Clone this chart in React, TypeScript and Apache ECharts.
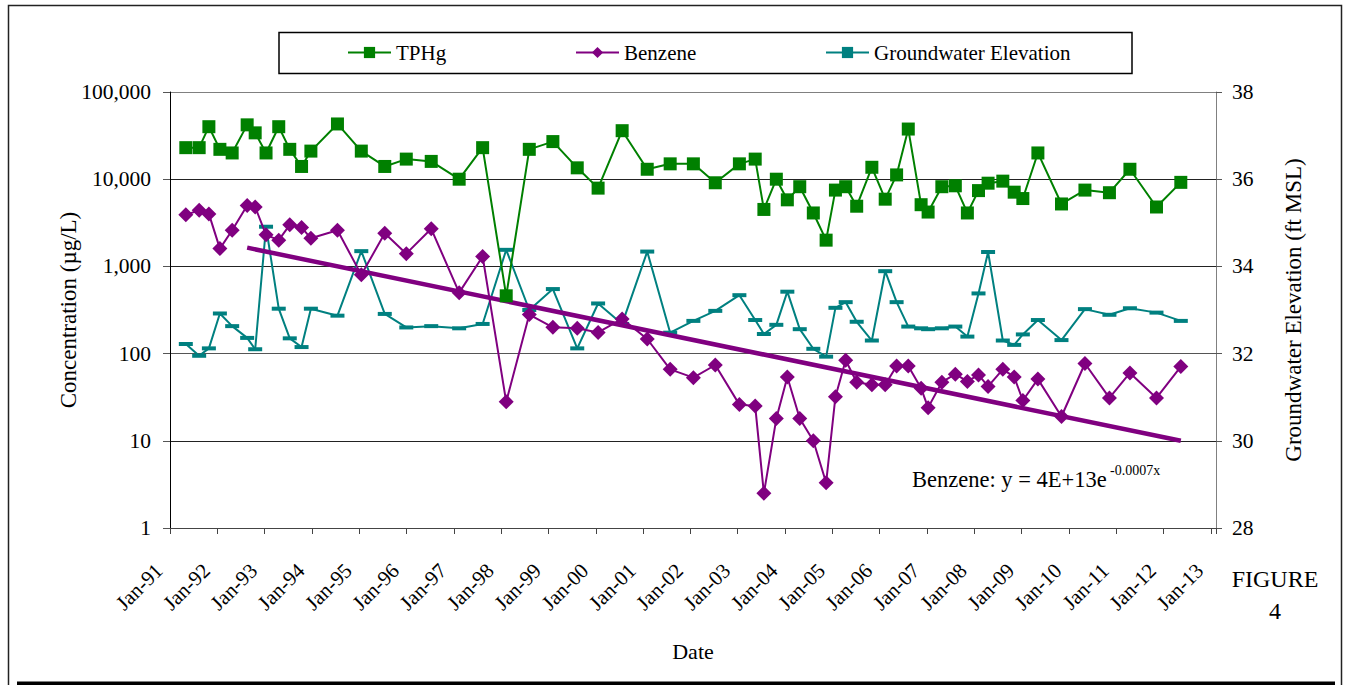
import { useEffect, useRef } from 'react';
import * as echarts from 'echarts';

// Monitoring-well sampling dates
const SAMPLE_DATES = [
  '1991-05-03', '1991-08-14', '1991-10-28', '1992-01-21', '1992-04-25', '1992-08-19', '1992-10-20', '1993-01-12',
  '1993-04-20', '1993-07-14', '1993-10-13', '1993-12-24', '1994-07-17', '1995-01-17', '1995-07-17', '1995-12-30',
  '1996-07-10', '1997-02-11', '1997-08-11', '1998-02-09', '1998-08-06', '1999-02-04', '1999-08-11', '2000-01-19',
  '2000-07-23', '2001-02-02', '2001-07-29', '2002-01-24', '2002-07-12', '2003-01-14', '2003-05-16', '2003-07-22',
  '2003-10-26', '2004-01-19', '2004-04-24', '2004-08-07', '2004-11-14', '2005-01-25', '2005-04-14', '2005-07-08',
  '2005-11-02', '2006-02-13', '2006-05-12', '2006-08-10', '2006-11-17', '2007-01-10', '2007-04-26', '2007-08-08',
  '2007-11-09', '2008-02-03', '2008-04-17', '2008-08-09', '2008-11-05', '2009-01-11', '2009-05-07', '2009-11-05',
  '2010-05-05', '2010-11-10', '2011-04-17', '2011-11-08', '2012-05-14',
];

// TPHg concentration (µg/L)
const TPHG = [
  23000, 23000, 40000, 22000, 20000, 42000, 34000, 20000, 40000, 22000,
  14000, 21000, 43000, 21000, 14000, 17000, 16000, 10000, 23000, 460,
  22000, 27000, 13500, 7900, 36000, 13000, 15000, 15000, 9100, 15000,
  17000, 4500, 10000, 5800, 8200, 4100, 2000, 7500, 8200, 4900,
  13700, 5900, 11200, 37600, 5100, 4200, 8200, 8400, 4100, 7400,
  9000, 9500, 7100, 6000, 20000, 5200, 7500, 7000, 13000, 4800,
  9200,
];

// Benzene concentration (µg/L)
const BENZENE = [
  3900, 4400, 4000, 1600, 2600, 5000, 4800, 2300, 2000, 3000,
  2800, 2100, 2600, 800, 2400, 1400, 2700, 500, 1300, 28,
  280, 200, 195, 175, 250, 147, 66, 53, 74, 26,
  25, 2.5, 18, 54, 18, 10, 3.3, 32, 84, 47,
  44, 44, 72, 72, 40, 24, 47, 58, 48, 57,
  42, 66, 54, 29, 51, 19, 77, 31, 60, 31,
  71,
];

// Groundwater elevation (ft MSL)
const GW_ELEV = [
  32.22, 31.95, 32.12, 32.92, 32.63, 32.36, 32.10, 34.91, 33.03, 32.35,
  32.15, 33.03, 32.87, 34.35, 32.91, 32.60, 32.63, 32.58, 32.68, 34.38,
  33.00, 33.48, 32.12, 33.15, 32.68, 34.34, 32.48, 32.75, 32.98, 33.34,
  32.77, 32.45, 32.66, 33.42, 32.56, 32.11, 31.93, 33.05, 33.18, 32.73,
  32.30, 33.89, 33.18, 32.62, 32.58, 32.56, 32.58, 32.62, 32.39, 33.38,
  34.33, 32.30, 32.20, 32.44, 32.77, 32.31, 33.02, 32.89, 33.04, 32.94,
  32.75,
];

// Exponential benzene trend line end points
const TREND_DATES = ['1992-08-19', '2012-05-14'];
const TREND_BENZENE = [1640, 10];

// Axis ranges
const YEAR_MIN = 1991;
const YEAR_MAX = 2013.11;
const CONC_MIN = 1;
const CONC_MAX = 100000;
const ELEV_MIN = 28;
const ELEV_MAX = 38;
const ELEV_STEP = 2;

const FONT = 'Liberation Serif, Times New Roman, serif';

// ISO date -> decimal year
function toYear(iso: string): number {
  const [y, m, d] = iso.split('-').map(Number);
  const start = Date.UTC(y, 0, 1);
  const end = Date.UTC(y + 1, 0, 1);
  return y + (Date.UTC(y, m - 1, d) - start) / (end - start);
}

function pair(dates: string[], values: number[]) {
  return dates.map((d, i) => [toYear(d), values[i]]);
}

export default function App() {
  const ref = useRef<HTMLDivElement>(null);

  useEffect(() => {
    if (!ref.current) return;
    const chart = echarts.init(ref.current, undefined, { renderer: 'svg' });

    const legendText = { fontFamily: FONT, fontSize: 21, color: '#000' };
    const legendBase = {
      top: 42,
      padding: 0,
      itemWidth: 43,
      itemHeight: 14,
      itemGap: 0,
      textStyle: legendText,
      z: 10,
    };

    chart.setOption({
      animation: false,
      backgroundColor: '#fff',
      textStyle: { fontFamily: FONT },
      grid: { left: 170, right: 136, top: 92, bottom: 157, containLabel: false },
      legend: [
        { ...legendBase, left: 347, data: ['TPHg'] },
        { ...legendBase, left: 575, data: ['Benzene'] },
        { ...legendBase, left: 825, data: ['Groundwater Elevation'] },
      ],
      xAxis: {
        type: 'value',
        min: YEAR_MIN,
        max: YEAR_MAX,
        interval: 1,
        name: 'Date',
        nameLocation: 'middle',
        nameGap: 112,
        nameMoveOverlap: false,
        nameTextStyle: { fontFamily: FONT, fontSize: 22, color: '#000' },
        axisLine: { show: true, lineStyle: { color: '#444', width: 1 } },
        axisTick: { show: true, length: 6, lineStyle: { color: '#444' } },
        axisLabel: {
          rotate: 45,
          margin: 50,
          verticalAlign: 'bottom',
          lineHeight: 31,
          showMinLabel: true,
          showMaxLabel: true,
          fontFamily: FONT,
          fontSize: 21,
          color: '#000',
          formatter: (v: number) =>
            Math.abs(v - Math.round(v)) < 1e-6 ? 'Jan-' + String(Math.round(v)).slice(2) : '',
        },
        splitLine: { show: false },
      },
      yAxis: [
        {
          type: 'log',
          logBase: 10,
          min: CONC_MIN,
          max: CONC_MAX,
          position: 'left',
          name: 'Concentration (µg/L)',
          nameLocation: 'middle',
          nameGap: 90,
          nameMoveOverlap: false,
          nameRotate: 90,
          nameTextStyle: { fontFamily: FONT, fontSize: 23, color: '#000' },
          axisLine: { show: true, lineStyle: { color: '#000', width: 1 } },
          axisTick: { show: true, length: 7, lineStyle: { color: '#555' } },
          minorTick: { show: false },
          axisLabel: {
            margin: 19,
            fontFamily: FONT,
            fontSize: 21.5,
            color: '#000',
            formatter: (v: number) => Math.round(v).toLocaleString('en-US'),
          },
          splitLine: {
            show: true,
            lineStyle: { color: ['#333', '#222', '#555', '#222', '#222', '#808080'], width: 1 },
          },
        },
        {
          type: 'value',
          min: ELEV_MIN,
          max: ELEV_MAX,
          interval: ELEV_STEP,
          position: 'right',
          name: 'Groundwater Elevation (ft MSL)',
          nameLocation: 'middle',
          nameGap: 66,
          nameMoveOverlap: false,
          nameRotate: 90,
          nameTextStyle: { fontFamily: FONT, fontSize: 23, color: '#000' },
          axisLine: { show: true, lineStyle: { color: '#808080', width: 1 } },
          axisTick: { show: true, length: 6, lineStyle: { color: '#555' } },
          axisLabel: { margin: 16, fontFamily: FONT, fontSize: 21.5, color: '#000' },
          splitLine: { show: false },
        },
      ],
      series: [
        {
          name: 'Groundwater Elevation',
          type: 'line',
          yAxisIndex: 1,
          data: pair(SAMPLE_DATES, GW_ELEV),
          symbol: 'rect',
          symbolSize: [14, 4],
          itemStyle: { color: '#008080' },
          lineStyle: { color: '#008080', width: 2 },
          z: 2,
        },
        {
          name: 'Benzene trend',
          type: 'line',
          yAxisIndex: 0,
          data: pair(TREND_DATES, TREND_BENZENE),
          symbol: 'none',
          lineStyle: { color: '#800080', width: 4.5 },
          z: 3,
        },
        {
          name: 'Benzene',
          type: 'line',
          yAxisIndex: 0,
          data: pair(SAMPLE_DATES, BENZENE),
          symbol: 'diamond',
          symbolSize: 15,
          itemStyle: { color: '#800080' },
          lineStyle: { color: '#800080', width: 2 },
          z: 4,
        },
        {
          name: 'TPHg',
          type: 'line',
          yAxisIndex: 0,
          data: pair(SAMPLE_DATES, TPHG),
          symbol: 'rect',
          symbolSize: 13,
          itemStyle: { color: '#008000' },
          lineStyle: { color: '#008000', width: 2 },
          z: 5,
        },
      ],
      graphic: [
        {
          type: 'rect',
          silent: true,
          z: 0,
          shape: { x: 8.5, y: 5.5, width: 1333, height: 700 },
          style: { fill: 'none', stroke: '#222', lineWidth: 1.5 },
        },
        {
          type: 'rect',
          silent: true,
          z: 0,
          shape: { x: 17, y: 681.5, width: 1318, height: 4 },
          style: { fill: '#000' },
        },
        {
          type: 'rect',
          silent: true,
          z: 0,
          shape: { x: 279, y: 32.5, width: 853, height: 41 },
          style: { fill: 'none', stroke: '#000', lineWidth: 1.5 },
        },
        {
          type: 'text',
          silent: true,
          x: 912,
          y: 479,
          style: {
            text: 'Benzene: y = 4E+13e',
            fontFamily: FONT,
            fontSize: 22.5,
            fill: '#000',
            align: 'left',
            verticalAlign: 'middle',
          },
        },
        {
          type: 'text',
          silent: true,
          x: 1110,
          y: 470,
          style: {
            text: '-0.0007x',
            fontFamily: FONT,
            fontSize: 14,
            fill: '#000',
            align: 'left',
            verticalAlign: 'middle',
          },
        },
        {
          type: 'text',
          silent: true,
          x: 1275,
          y: 579,
          style: {
            text: 'FIGURE',
            fontFamily: FONT,
            fontSize: 24,
            fill: '#000',
            align: 'center',
            verticalAlign: 'middle',
          },
        },
        {
          type: 'text',
          silent: true,
          x: 1275,
          y: 611,
          style: {
            text: '4',
            fontFamily: FONT,
            fontSize: 24,
            fill: '#000',
            align: 'center',
            verticalAlign: 'middle',
          },
        },
      ],
    });

    return () => chart.dispose();
  }, []);

  return (
    <div
      ref={ref}
      style={{ position: 'fixed', left: 0, top: 0, width: 1352, height: 685, background: '#fff' }}
    />
  );
}
